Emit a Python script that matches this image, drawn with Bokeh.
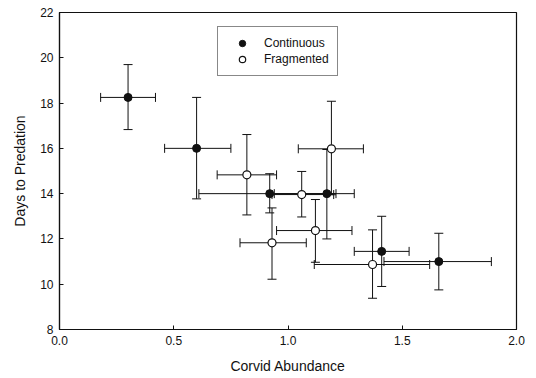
from bokeh.plotting import figure
from bokeh.models import (ColumnDataSource, Whisker, TeeHead, Legend, LegendItem,
                          FixedTicker, Range1d, CustomJSTickFormatter)
from bokeh.embed import file_html
from bokeh.resources import INLINE

# Continuous forest sites: mean corvid abundance vs. days to predation, with error ranges
cont_x = [0.30, 0.60, 0.92, 1.17, 1.41, 1.66]
cont_y = [18.25, 16.0, 14.0, 14.0, 11.45, 11.0]
cont_x_lo = [0.18, 0.46, 0.61, 0.94, 1.29, 1.42]
cont_x_hi = [0.42, 0.75, 1.21, 1.29, 1.53, 1.89]
cont_y_lo = [16.83, 13.77, 13.15, 12.0, 9.9, 9.75]
cont_y_hi = [19.7, 18.25, 14.88, 15.95, 13.0, 12.25]

# Fragmented forest sites
frag_x = [0.82, 1.19, 1.06, 0.93, 1.12, 1.37]
frag_y = [14.83, 15.98, 13.96, 11.83, 12.37, 10.87]
frag_x_lo = [0.69, 1.045, 0.93, 0.79, 0.95, 1.115]
frag_x_hi = [0.95, 1.33, 1.20, 1.08, 1.28, 1.62]
frag_y_lo = [13.06, 13.95, 12.97, 10.22, 10.97, 9.38]
frag_y_hi = [16.61, 18.08, 14.98, 13.37, 13.74, 12.40]

x_ticks = [0.0, 0.5, 1.0, 1.5, 2.0]
y_ticks = [8, 10, 12, 14, 16, 18, 20, 22]

FONT = "Liberation Sans"
INK = "#111111"

p = figure(width=536, height=378, output_backend="svg", toolbar_location=None,
           x_range=Range1d(0, 2), y_range=Range1d(8, 22),
           min_border_left=59, min_border_right=20, min_border_top=12,
           min_border_bottom=49)
p.background_fill_color = "white"
p.border_fill_color = "white"
p.grid.visible = False
p.outline_line_color = INK
p.outline_line_width = 1.2

for ax, ticks in ((p.xaxis, x_ticks), (p.yaxis, y_ticks)):
    ax.ticker = FixedTicker(ticks=ticks)
    ax.axis_line_color = INK
    ax.axis_line_width = 1.2
    ax.major_tick_in = 4
    ax.major_tick_out = 0
    ax.minor_tick_line_color = None
    ax.major_tick_line_color = INK
    ax.major_label_text_font = FONT
    ax.major_label_text_font_size = "12px"
    ax.major_label_text_color = INK
    ax.axis_label_text_font = FONT
    ax.axis_label_text_font_size = "14px"
    ax.axis_label_text_font_style = "normal"
    ax.axis_label_text_color = INK

p.xaxis.formatter = CustomJSTickFormatter(code="return tick.toFixed(1);")
p.xaxis.axis_label = "Corvid Abundance"
p.yaxis.axis_label = "Days to Predation"
p.xaxis.major_label_standoff = 6
p.yaxis.major_label_standoff = 6
p.xaxis.axis_label_standoff = 10
p.yaxis.axis_label_standoff = 9

cont_src = ColumnDataSource(dict(x=cont_x, y=cont_y, xl=cont_x_lo, xh=cont_x_hi,
                                 yl=cont_y_lo, yh=cont_y_hi))
frag_src = ColumnDataSource(dict(x=frag_x, y=frag_y, xl=frag_x_lo, xh=frag_x_hi,
                                 yl=frag_y_lo, yh=frag_y_hi))


def head():
    return TeeHead(size=9, line_color=INK, line_width=1)


for src in (cont_src, frag_src):
    p.add_layout(Whisker(source=src, base="x", lower="yl", upper="yh",
                         dimension="height", line_color=INK, line_width=1,
                         lower_head=head(), upper_head=head(), level="underlay"))
    p.add_layout(Whisker(source=src, base="y", lower="xl", upper="xh",
                         dimension="width", line_color=INK, line_width=1,
                         lower_head=head(), upper_head=head(), level="underlay"))

r_cont = p.scatter("x", "y", source=cont_src, size=8, fill_color=INK,
                   line_color=INK, line_width=1)
r_frag = p.scatter("x", "y", source=frag_src, size=8, fill_color="white",
                   line_color=INK, line_width=1.2)

legend = Legend(items=[LegendItem(label="Continuous", renderers=[r_cont]),
                       LegendItem(label="Fragmented", renderers=[r_frag])],
                location=(158, 253))
legend.border_line_color = INK
legend.border_line_width = 1
legend.background_fill_color = "white"
legend.label_text_font = FONT
legend.label_text_font_size = "12px"
legend.label_text_color = INK
legend.glyph_width = 32
legend.glyph_height = 16
legend.label_standoff = 6
legend.padding = 8
legend.spacing = 0
legend.margin = 0
legend.label_height = 16
p.add_layout(legend)

open("out.html", "w").write(file_html(p, INLINE))
